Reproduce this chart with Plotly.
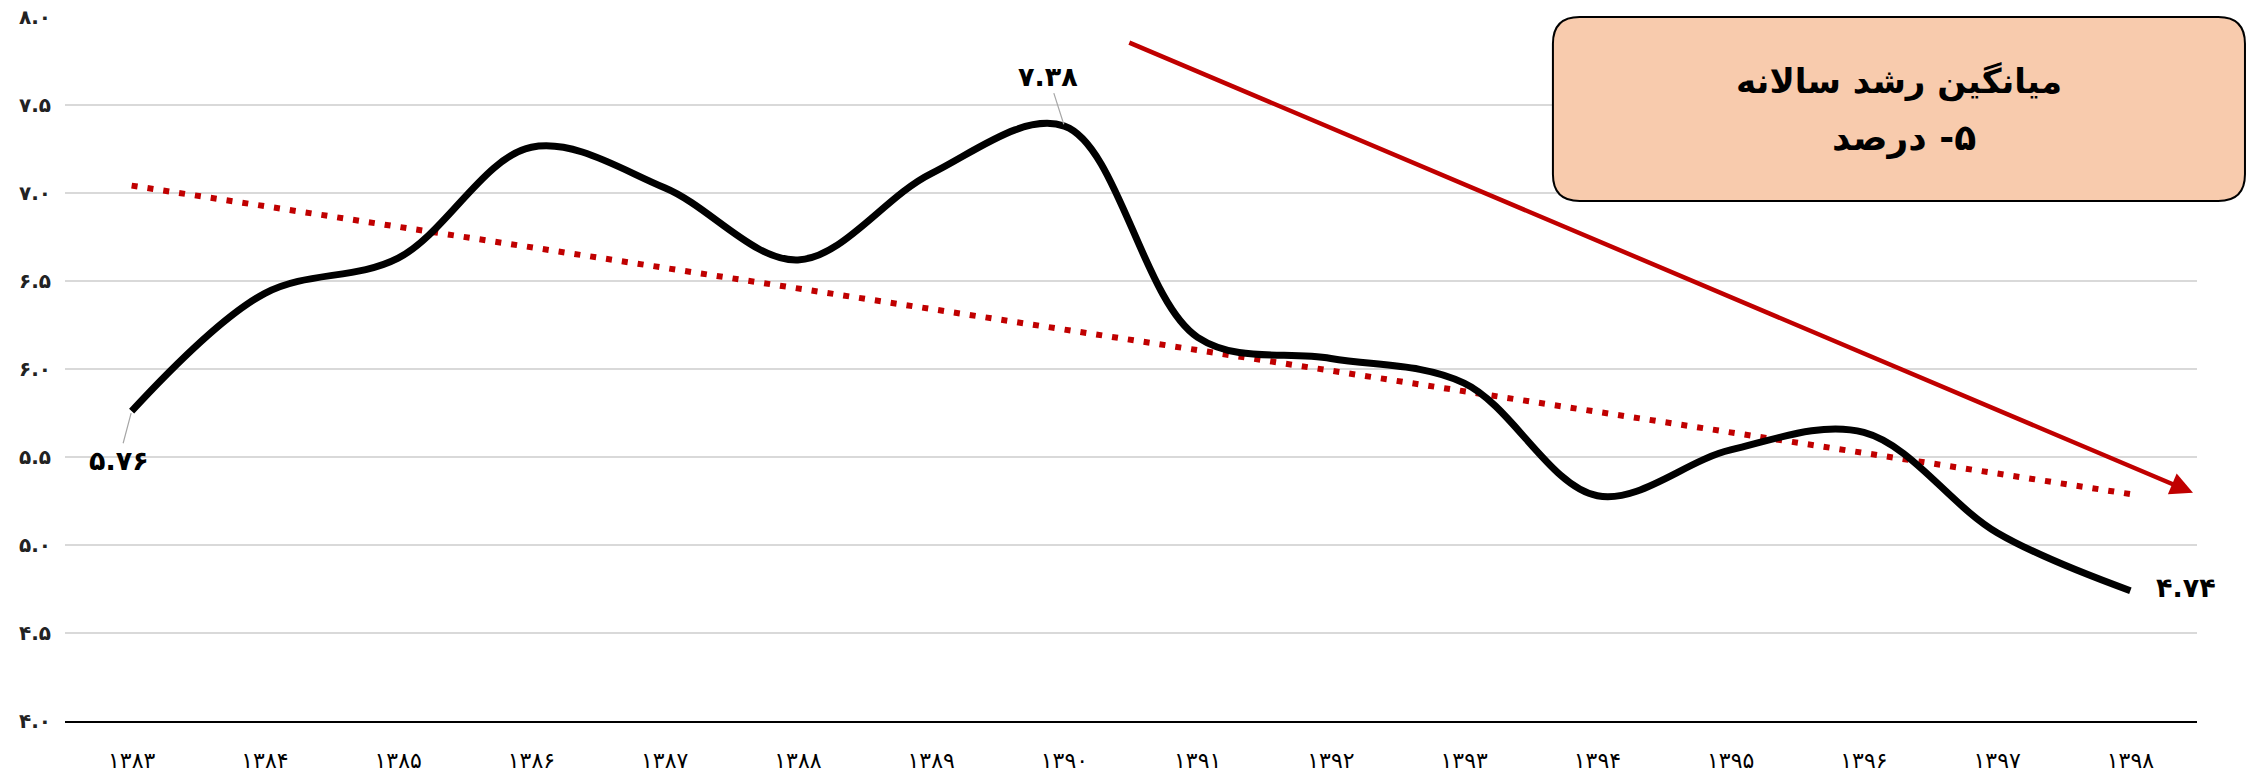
import plotly.graph_objects as go
import numpy as np

# ---------------- data ----------------
years = ['۱۳۸۳', '۱۳۸۴', '۱۳۸۵', '۱۳۸۶', '۱۳۸۷', '۱۳۸۸', '۱۳۸۹', '۱۳۹۰',
         '۱۳۹۱', '۱۳۹۲', '۱۳۹۳', '۱۳۹۴', '۱۳۹۵', '۱۳۹۶', '۱۳۹۷', '۱۳۹۸']
growth = [5.76, 6.43, 6.63, 7.26, 7.03, 6.62, 7.11, 7.38,
          6.18, 6.06, 5.92, 5.28, 5.54, 5.64, 5.07, 4.74]
y_tickvals = [4.0, 4.5, 5.0, 5.5, 6.0, 6.5, 7.0, 7.5, 8.0]
y_ticktext = ['۴.۰', '۴.۵', '۵.۰', '۵.۵', '۶.۰', '۶.۵', '۷.۰', '۷.۵', '۸.۰']
box_line1 = 'میانگین رشد سالانه'
box_line2 = '\u202B۵- درصد\u202C'
labelled_points = [0, 7, 15]  # indices of points carrying value labels

PERSIAN = str.maketrans('0123456789', '۰۱۲۳۴۵۶۷۸۹')


def fa(v):
    return f'{v:.2f}'.translate(PERSIAN)


# linear trend (as in the spreadsheet trendline)
xi = np.arange(len(growth))
slope, intercept = np.polyfit(xi, growth, 1)
trend = intercept + slope * xi

RED = '#C00000'
FONT = 'DejaVu Sans'

fig = go.Figure()
fig.add_trace(go.Scatter(
    x=years, y=trend, mode='lines',
    line=dict(color=RED, width=6, dash='6px,10px'),
    hoverinfo='skip', showlegend=False))
fig.add_trace(go.Scatter(
    x=years, y=growth, mode='lines',
    line=dict(color='black', width=7, shape='spline', smoothing=1.0),
    hoverinfo='skip', showlegend=False, cliponaxis=False))

annotations = []
# value labels with leader lines
offsets = {0: (-13, 49, True), 7: (-16, -50, True), 15: (56, -3, False)}
for i in labelled_points:
    axp, ayp, arrow = offsets[i]
    a = dict(x=years[i], y=growth[i], xref='x', yref='y', text=fa(growth[i]),
             font=dict(family=FONT, size=27, color='black', weight='bold'))
    if arrow:
        a.update(showarrow=True, ax=axp, ay=ayp, arrowhead=0, arrowwidth=1.2,
                 arrowcolor='#A6A6A6', standoff=2)
    else:
        a.update(showarrow=False, xshift=axp, yshift=-ayp)
    annotations.append(a)

# red decreasing arrow
annotations.append(dict(
    x=15.47, y=5.297, xref='x', yref='y',
    ax=7.476, ay=7.858, axref='x', ayref='y',
    text='', showarrow=True, arrowhead=2, arrowsize=1, arrowwidth=4.5,
    arrowcolor=RED))

# text box content (RTL runs render end-anchored, so shift by half their width)
annotations.append(dict(x=0.8597, y=0.9105, xref='paper', yref='paper',
                        text=box_line1, showarrow=False, xshift=166, yshift=21,
                        font=dict(family=FONT, size=34, color='black', weight='bold')))
annotations.append(dict(x=0.8597, y=0.835, xref='paper', yref='paper',
                        text=box_line2, showarrow=False, xshift=80, yshift=18,
                        font=dict(family=FONT, size=36, color='black', weight='bold')))

# rounded rectangle (paper coords)
x0, x1, y0, y1 = 0.6979, 1.0225, 0.7386, 1.0
rx, ry = 0.0125, 0.038
path = (f'M {x0+rx},{y0} L {x1-rx},{y0} Q {x1},{y0} {x1},{y0+ry} '
        f'L {x1},{y1-ry} Q {x1},{y1} {x1-rx},{y1} '
        f'L {x0+rx},{y1} Q {x0},{y1} {x0},{y1-ry} '
        f'L {x0},{y0+ry} Q {x0},{y0} {x0+rx},{y0} Z')

fig.update_layout(
    width=2249, height=776,
    margin=dict(l=65, r=52, t=17, b=55, autoexpand=False),
    paper_bgcolor='white', plot_bgcolor='white',
    showlegend=False,
    annotations=annotations,
    shapes=[dict(type='path', path=path, xref='paper', yref='paper',
                 fillcolor='#F8CBAD', line=dict(color='black', width=2),
                 layer='above')],
    xaxis=dict(type='category', range=[-0.5, 15.5], showgrid=False,
               showline=True, linecolor='black', linewidth=2,
               ticks='', ticklabelstandoff=19, automargin=False,
               tickfont=dict(family=FONT, size=22, color='black'),
               zeroline=False, fixedrange=True),
    yaxis=dict(range=[4, 8], tickvals=y_tickvals, ticktext=y_ticktext,
               showgrid=True, gridcolor='#D9D9D9', gridwidth=1.5,
               showline=False, zeroline=False, ticks='', automargin=False,
               ticklabelstandoff=13,
               tickfont=dict(family=FONT, size=20, color='#222222', weight='bold'),
               fixedrange=True),
)

fig.write_html('out.html', config={'displayModeBar': False},
               post_script="document.body.style.margin='0';document.body.style.overflow='hidden';")
